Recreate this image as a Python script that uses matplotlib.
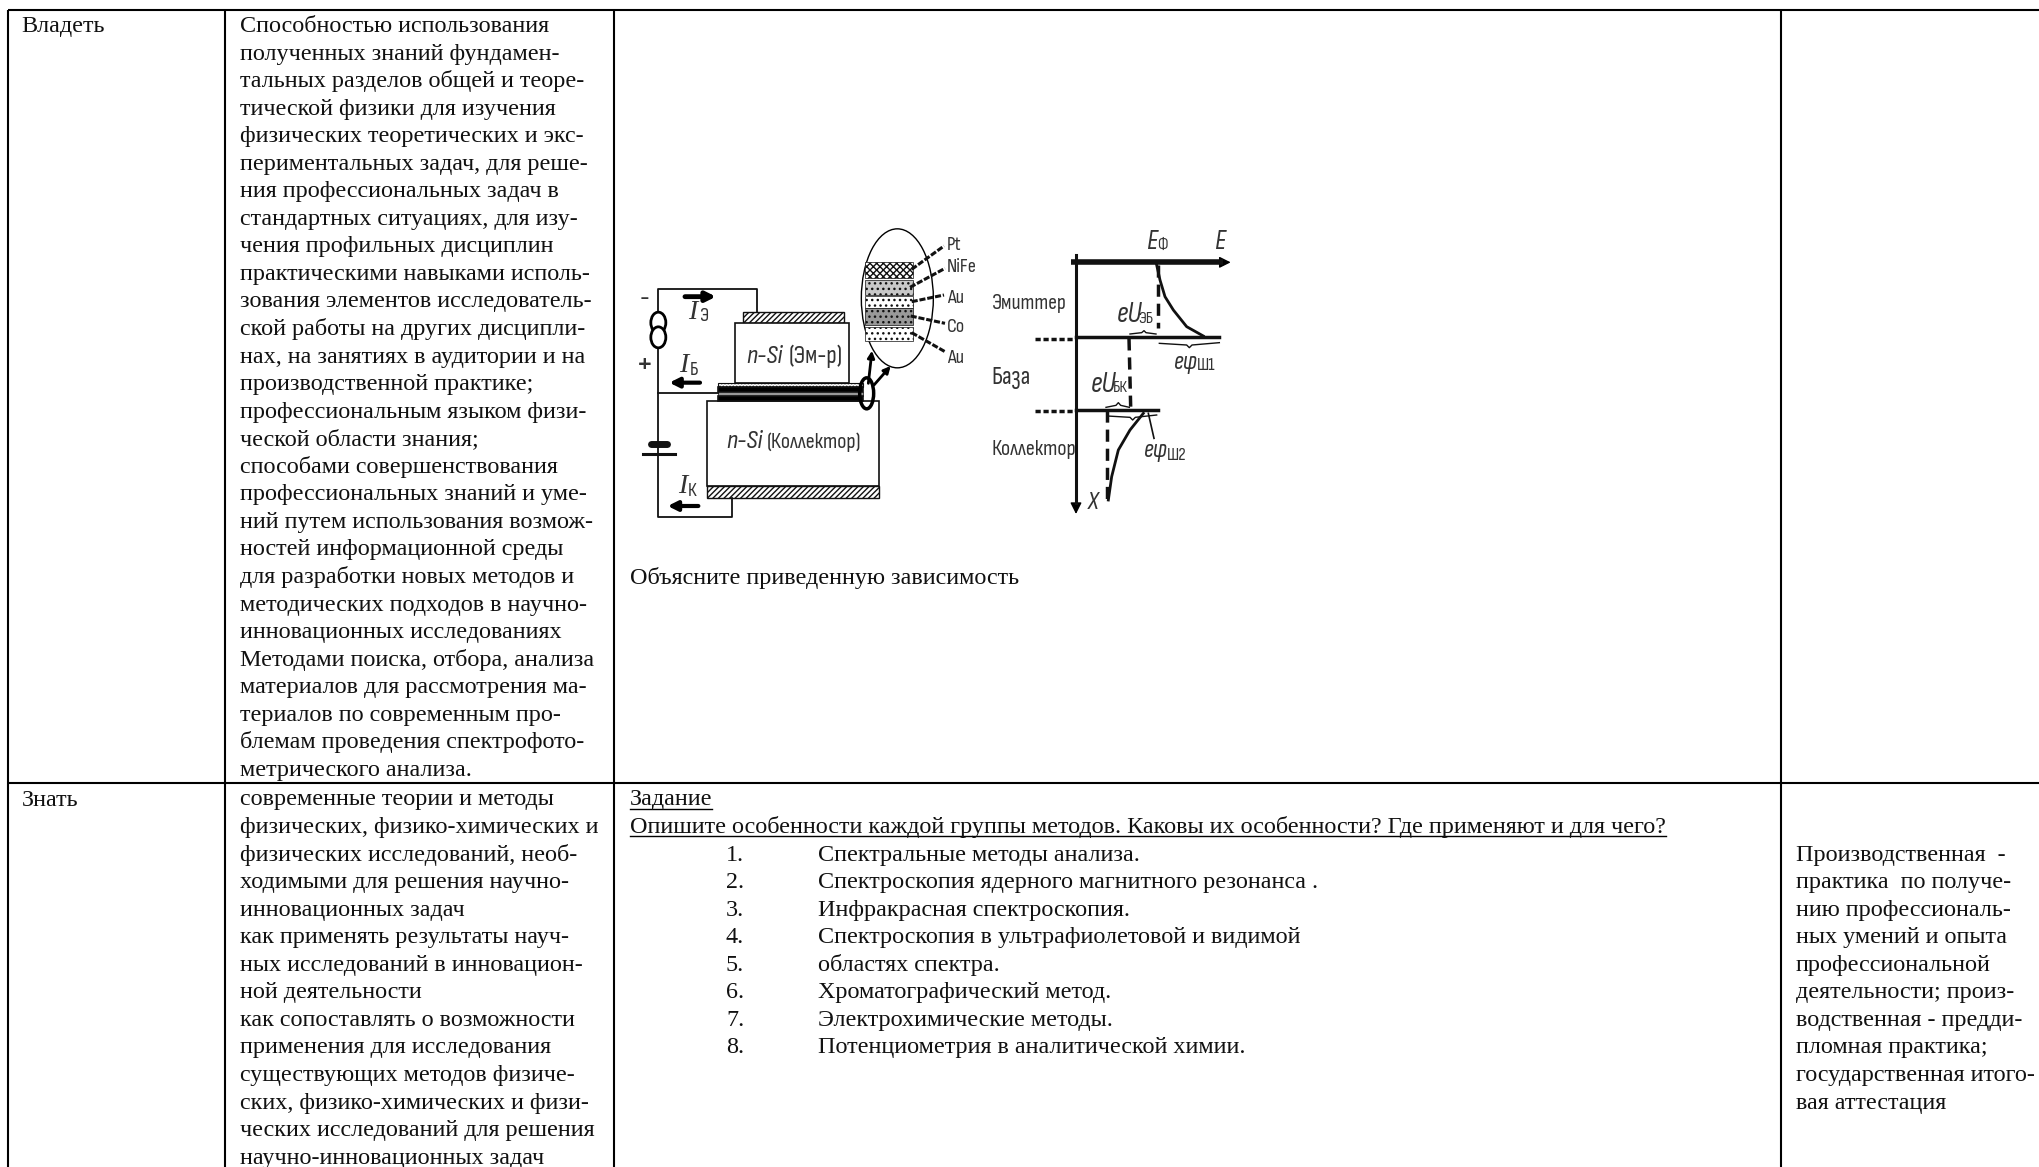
import matplotlib
matplotlib.use('Agg')
import matplotlib.pyplot as plt
from matplotlib.patches import Rectangle, Ellipse, FancyArrowPatch

SERIF = ['Liberation Serif', 'DejaVu Serif']
NARROW = ['Sofia Sans Condensed', 'DejaVu Sans']
FS = 17.4
LH = 27.55

col1_row1 = ['Владеть']
col2_row1 = ['Способностью использования', 'полученных знаний фундамен-', 'тальных разделов общей и теоре-',
 'тической физики для изучения', 'физических теоретических и экс-', 'периментальных задач, для реше-',
 'ния профессиональных задач в', 'стандартных ситуациях, для изу-', 'чения профильных дисциплин',
 'практическими навыками исполь-', 'зования элементов исследователь-', 'ской работы на других дисципли-',
 'нах, на занятиях в аудитории и на', 'производственной практике;', 'профессиональным языком физи-',
 'ческой области знания;', 'способами совершенствования', 'профессиональных знаний и уме-',
 'ний путем использования возмож-', 'ностей информационной среды', 'для разработки новых методов и',
 'методических подходов в научно-', 'инновационных исследованиях', 'Методами поиска, отбора, анализа',
 'материалов для рассмотрения ма-', 'териалов по современным про-', 'блемам проведения спектрофото-',
 'метрического анализа.']
col1_row2 = ['Знать']
col2_row2 = ['современные теории и методы', 'физических, физико-химических и', 'физических исследований, необ-',
 'ходимыми для решения научно-', 'инновационных задач', 'как применять результаты науч-',
 'ных исследований в инновацион-', 'ной деятельности', 'как сопоставлять о возможности',
 'применения для исследования', 'существующих методов физиче-', 'ских, физико-химических и физи-',
 'ческих исследований для решения', 'научно-инновационных задач']
task_head = ['Задание', 'Опишите особенности каждой группы методов. Каковы их особенности? Где применяют и для чего?']
task_nums = ['1.', '2.', '3.', '4.', '5.', '6.', '7.', '8.']
task_items = ['Спектральные методы анализа.', 'Спектроскопия ядерного магнитного резонанса .',
 'Инфракрасная спектроскопия.', 'Спектроскопия в ультрафиолетовой и видимой', 'областях спектра.',
 'Хроматографический метод.', 'Электрохимические методы.', 'Потенциометрия в аналитической химии.']
col4_row2 = ['Производственная  -', 'практика  по получе-', 'нию профессиональ-', 'ных умений и опыта',
 'профессиональной', 'деятельности; произ-', 'водственная - предди-', 'пломная практика;',
 'государственная итого-', 'вая аттестация']
caption = 'Объясните приведенную зависимость'

col_x = [8, 225, 614, 1781]
row_y = [10, 783]

fig = plt.figure(figsize=(20.4, 11.67), dpi=100)
ax = fig.add_axes([0, 0, 1, 1])
ax.set_xlim(0, 2040); ax.set_ylim(1167, 0); ax.axis('off')

for x in col_x:
    ax.plot([x, x], [row_y[0], 1167], color='k', lw=1.5, solid_capstyle='butt')
for y in row_y:
    ax.plot([col_x[0], 2040], [y, y], color='k', lw=1.5, solid_capstyle='butt')

def block(lines, x, y0):
    for i, s in enumerate(lines):
        ax.text(x, y0 + i * LH, s, family=SERIF, fontsize=FS, color='#111111', va='baseline', ha='left')

R1 = 32
R2 = 805.5
block(col1_row1, 21.5, R1)
block(col2_row1, 240, R1)
block(col1_row2, 21.5, R2)
block(col2_row2, 240, R2)
block(task_head, 630, R2)
block(task_nums, 726, R2 + 2 * LH)
block(task_items, 818, R2 + 2 * LH)
block(col4_row2, 1796, R2 + 2 * LH)
block([caption], 630, 584)

fig.canvas.draw()
rend = fig.canvas.get_renderer()
for i, s in enumerate(task_head):
    t = ax.text(630, R2 + i * LH, s, family=SERIF, fontsize=FS, alpha=0)
    w = t.get_window_extent(rend).width
    ax.plot([630, 630 + w], [R2 + i * LH + 3] * 2, color='k', lw=1)

def P(x, y):
    return 620 + x / 3, 210 + y / 3
def Q(x, y):
    return 960 + x / 3, 210 + y / 3

def line(f, pts, **kw):
    xs, ys = zip(*[f(*p) for p in pts])
    kw.setdefault('color', '#111111'); kw.setdefault('lw', 1.3)
    ax.plot(xs, ys, **kw)

def rect(x0, y0, x1, y1, **kw):
    a, b = P(x0, y0); c, d = P(x1, y1)
    kw.setdefault('edgecolor', '#111111'); kw.setdefault('facecolor', 'white'); kw.setdefault('lw', 1.2)
    ax.add_patch(Rectangle((a, b), c - a, d - b, **kw))

def arrow(f, a, b, lw=2.5, ms=14):
    ax.add_patch(FancyArrowPatch(f(*a), f(*b), arrowstyle='-|>', mutation_scale=ms, lw=lw, color='k',
                                 shrinkA=0, shrinkB=0))

def lab(f, x, y, s, fs=15, style='normal', ha='left', fam=NARROW):
    a, b = f(x, y)
    ax.text(a, b, s, family=fam, fontsize=fs, style=style, ha=ha, va='center', color='#333333')

wire_a = [(410, 305), (410, 237), (115, 237), (115, 920), (335, 920), (335, 865)]
wire_b = [(115, 550), (295, 550)]
line(P, wire_a); line(P, wire_b)
rect(368, 305, 672, 338, hatch='//////', lw=1)
rect(345, 338, 686, 520)
rect(262, 572, 776, 828)
rect(262, 828, 776, 863, hatch='//////', lw=1)
rect(295, 520, 730, 532, hatch='.....', lw=0.8)
rect(295, 532, 730, 546, facecolor='k')
rect(295, 546, 730, 558, facecolor='#999999', lw=0.5)
rect(295, 558, 730, 572, facecolor='k')

for cy in (338, 382):
    ax.add_patch(Ellipse(P(115, cy), 15, 21, facecolor='white', edgecolor='k', lw=2, zorder=3))
rect(92, 695, 140, 728, edgecolor='none', zorder=1)
line(P, [(92, 703), (140, 703)], lw=5, solid_capstyle='round')
line(P, [(68, 731), (165, 731)], lw=2.2)
lab(P, 73, 265, '-', 19, ha='center')
lab(P, 75, 465, '+', 26, ha='center')
arrow(P, (195, 260), (288, 260), lw=3.5)
arrow(P, (240, 518), (148, 518), lw=3)
arrow(P, (235, 888), (143, 888), lw=3)
lab(P, 205, 308, 'I', 20, 'italic', fam=SERIF); lab(P, 236, 318, 'Э', 14)
lab(P, 178, 465, 'I', 20, 'italic', fam=SERIF); lab(P, 210, 480, 'Б', 14)
lab(P, 174, 830, 'I', 20, 'italic', fam=SERIF); lab(P, 203, 843, 'К', 14)
lab(P, 380, 440, 'n-Si', 19, 'italic'); lab(P, 505, 440, '(Эм-р)', 18)
lab(P, 318, 695, 'n-Si', 19, 'italic'); lab(P, 440, 697, '(Коллектор)', 16)

ax.add_patch(Ellipse(P(740, 550), 14, 31, fill=False, edgecolor='k', lw=2.5, zorder=4))
arrow(P, (745, 520), (756, 422), lw=2, ms=10)
arrow(P, (762, 525), (812, 468), lw=2, ms=10)
ax.add_patch(Ellipse(P(832, 265), 72, 139, fill=False, edgecolor='k', lw=1))
layers_y = [(155, 205), (210, 255), (258, 295), (295, 345), (350, 392)]
layers_c = ['white', '#c8c8c8', 'white', '#999999', 'white']
layers_h = ['xxxxx', '...', '...', '...', '...']
for (a, b), col, h in zip(layers_y, layers_c, layers_h):
    rect(735, a, 878, b, facecolor=col, hatch=h, lw=0.5)
layer_names = ['Pt', 'NiFe', 'Au', 'Co', 'Au']
leader_from = [(875, 178), (870, 232), (875, 275), (872, 318), (875, 368)]
leader_to = [(972, 108), (975, 175), (972, 255), (975, 340), (975, 425)]
label_y = [105, 172, 263, 352, 445]
for a, b, n, ly in zip(leader_from, leader_to, layer_names, label_y):
    line(P, [a, b], lw=2.2, ls=(0, (2, 0.6)))
    lab(P, 980, ly, n, 14.5)

line(Q, [(333, 157), (790, 157)], lw=4, solid_capstyle='butt')
arrow(Q, (780, 157), (812, 157), lw=1, ms=17)
line(Q, [(348, 135), (348, 880)], lw=2.2)
arrow(Q, (348, 870), (348, 912), lw=1, ms=17)
line(Q, [(225, 388), (345, 388)], lw=2.5, ls=(0, (1.5, 0.8)))
line(Q, [(225, 603), (345, 603)], lw=2.5, ls=(0, (1.5, 0.8)))
line(Q, [(348, 382), (778, 382)], lw=2.5)
line(Q, [(348, 600), (595, 600)], lw=2.5)
dash = (0, (3.5, 2))
line(Q, [(593, 165), (593, 355)], lw=2.5, ls=dash)
line(Q, [(507, 385), (512, 590)], lw=2.5, ls=dash)
line(Q, [(440, 600), (440, 870)], lw=2.5, ls=dash)
curve_1 = [(590, 165), (600, 210), (615, 260), (640, 300), (680, 350), (730, 378)]
curve_2 = [(445, 870), (455, 800), (475, 720), (510, 660), (550, 610)]
line(Q, curve_1, lw=2); line(Q, curve_2, lw=2)
brace_1 = [(510, 372), (545, 368), (552, 362), (558, 368), (588, 372)]
brace_2 = [(598, 400), (680, 405), (688, 413), (696, 405), (778, 398)]
brace_3 = [(438, 592), (468, 586), (475, 578), (482, 586), (508, 592)]
brace_4 = [(442, 618), (510, 622), (518, 630), (526, 622), (590, 615)]
for b in (brace_1, brace_2, brace_3, brace_4):
    line(Q, b, lw=1)
line(Q, [(565, 610), (582, 685)], lw=1.2)
lab(Q, 558, 95, 'E', 20, 'italic'); lab(Q, 590, 105, 'Ф', 12)
lab(Q, 762, 95, 'E', 20, 'italic')
lab(Q, 95, 280, 'Эмиттер', 15.5)
lab(Q, 95, 502, 'База', 18)
lab(Q, 95, 718, 'Коллектор', 16)
lab(Q, 468, 312, 'eU', 21, 'italic'); lab(Q, 535, 328, 'ЭБ', 12)
lab(Q, 390, 522, 'eU', 21, 'italic'); lab(Q, 458, 535, 'БК', 12)
lab(Q, 640, 458, 'eφ', 18, 'italic'); lab(Q, 712, 468, 'Ш1', 13)
lab(Q, 550, 722, 'eφ', 18, 'italic'); lab(Q, 622, 735, 'Ш2', 13)
lab(Q, 383, 878, 'X', 18, 'italic')

fig.savefig('out.png', dpi=100)
